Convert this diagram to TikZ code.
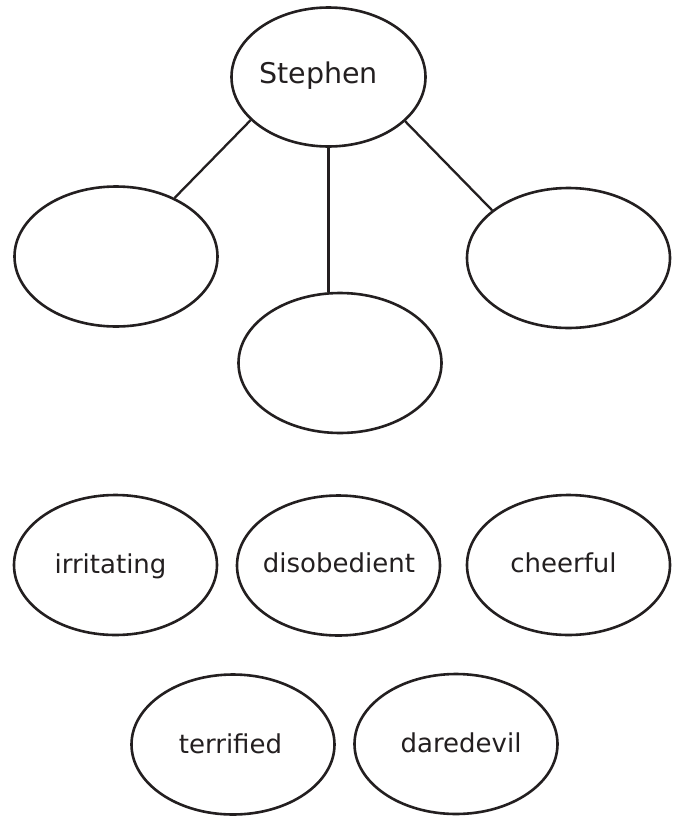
\documentclass[tikz,border=0pt]{standalone}
\usepackage{fontspec}
\setmainfont{DejaVu Sans}
\usetikzlibrary{shapes.geometric,calc}
\definecolor{ink}{HTML}{231F20}
\tikzset{
  ell/.style={ellipse, draw=ink, line width=2.6pt, inner sep=0pt,
              minimum width=203pt, minimum height=140pt},
  lbl/.style={anchor=base, inner sep=0pt, text=ink,
              font=\fontsize{26}{30}\selectfont},
  conn/.style={draw=ink, line width=2.3pt}
}
\begin{document}
\begin{tikzpicture}[x=1pt,y=-1pt]
\useasboundingbox (0,0) rectangle (678,817);
% top node
\node[ell, minimum width=194pt, minimum height=139pt] (s) at (328.5,77) {};
\node[lbl, font=\fontsize{28.5}{32}\selectfont] (ts) at ($(s.center)+(-10,6)$) {Stephen};
% empty child ellipses
\node[ell] (l) at (116,256.5) {};
\node[ell] (m) at (340,363) {};
\node[ell] (r) at (568.5,258) {};
% connectors
\draw[conn] (s.209) -- (l.45);
\draw[conn] (s.south) -- (s.south |- m.north);
\draw[conn] (s.330) -- (r.148);
% word ellipses
\node[ell] (w1) at (115.5,565) {};
\node[ell] (w2) at (338.5,565.5) {};
\node[ell] (w3) at (568.5,565) {};
\node[ell] (w4) at (233,744.5) {};
\node[ell] (w5) at (456,744) {};
\node[lbl] (t1) at ($(w1.center)+(-5,8)$) {irritating};
\node[lbl] (t2) at ($(w2.center)+(0.5,6.5)$) {disobedient};
\node[lbl] (t3) at ($(w3.center)+(-5,7)$) {cheerful};
\node[lbl] (t4) at ($(w4.center)+(-2.5,8.5)$) {terrified};
\node[lbl] (t5) at ($(w5.center)+(5,8)$) {daredevil};
\end{tikzpicture}
\end{document}
